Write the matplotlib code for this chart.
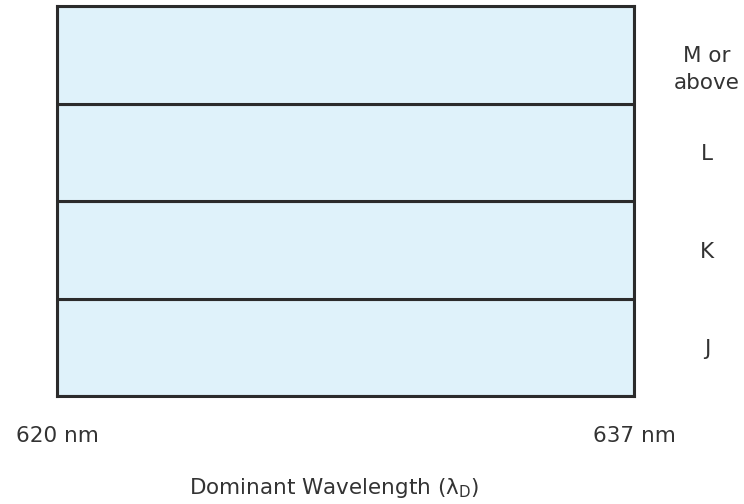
import matplotlib
matplotlib.use("Agg")
import matplotlib.pyplot as plt

# bands from bottom to top
grades = ["J", "K", "L", "M or\nabove"]
wl_min = 620
wl_max = 637
tick_labels = ["620 nm", "637 nm"]

fill = "#dff2fa"
edge = "#2b2b2b"
txt = "#333333"

fig = plt.figure(figsize=(7.44, 5.04), dpi=100)
W, H = 744, 504
ax = fig.add_axes([57 / W, (H - 396) / H, (634 - 57) / W, (396 - 6) / H])

pos = list(range(len(grades)))
ax.barh(pos, [wl_max - wl_min] * len(grades), left=wl_min, height=1.0,
        color=fill, edgecolor=edge, linewidth=2.2, align="edge")
ax.set_xlim(wl_min, wl_max)
ax.set_ylim(0, len(grades))

for s in ax.spines.values():
    s.set_color(edge)
    s.set_linewidth(2.2)

ax.set_yticks([])
ax.set_xticks([wl_min, wl_max])
ax.set_xticklabels(tick_labels, fontsize=15.5, color=txt)
ax.tick_params(axis="x", length=0, pad=21.5)

for i, g in enumerate(grades):
    if "\n" in g:
        ax.text((707 - 57) / 577, i + 0.59, g, transform=ax.get_yaxis_transform(),
                ha="center", va="top", fontsize=15.5, color=txt,
                multialignment="center", linespacing=1.45)
    else:
        ax.text((707 - 57) / 577, i + 0.48, g, transform=ax.get_yaxis_transform(),
                ha="center", va="center", fontsize=15.5, color=txt)

ax.set_xlabel("Dominant Wavelength (λ$_\\mathregular{D}$)", fontsize=15.5,
              color=txt)
ax.xaxis.set_label_coords((334 - 57) / 577, -0.205)

fig.savefig("out.png", dpi=100)
